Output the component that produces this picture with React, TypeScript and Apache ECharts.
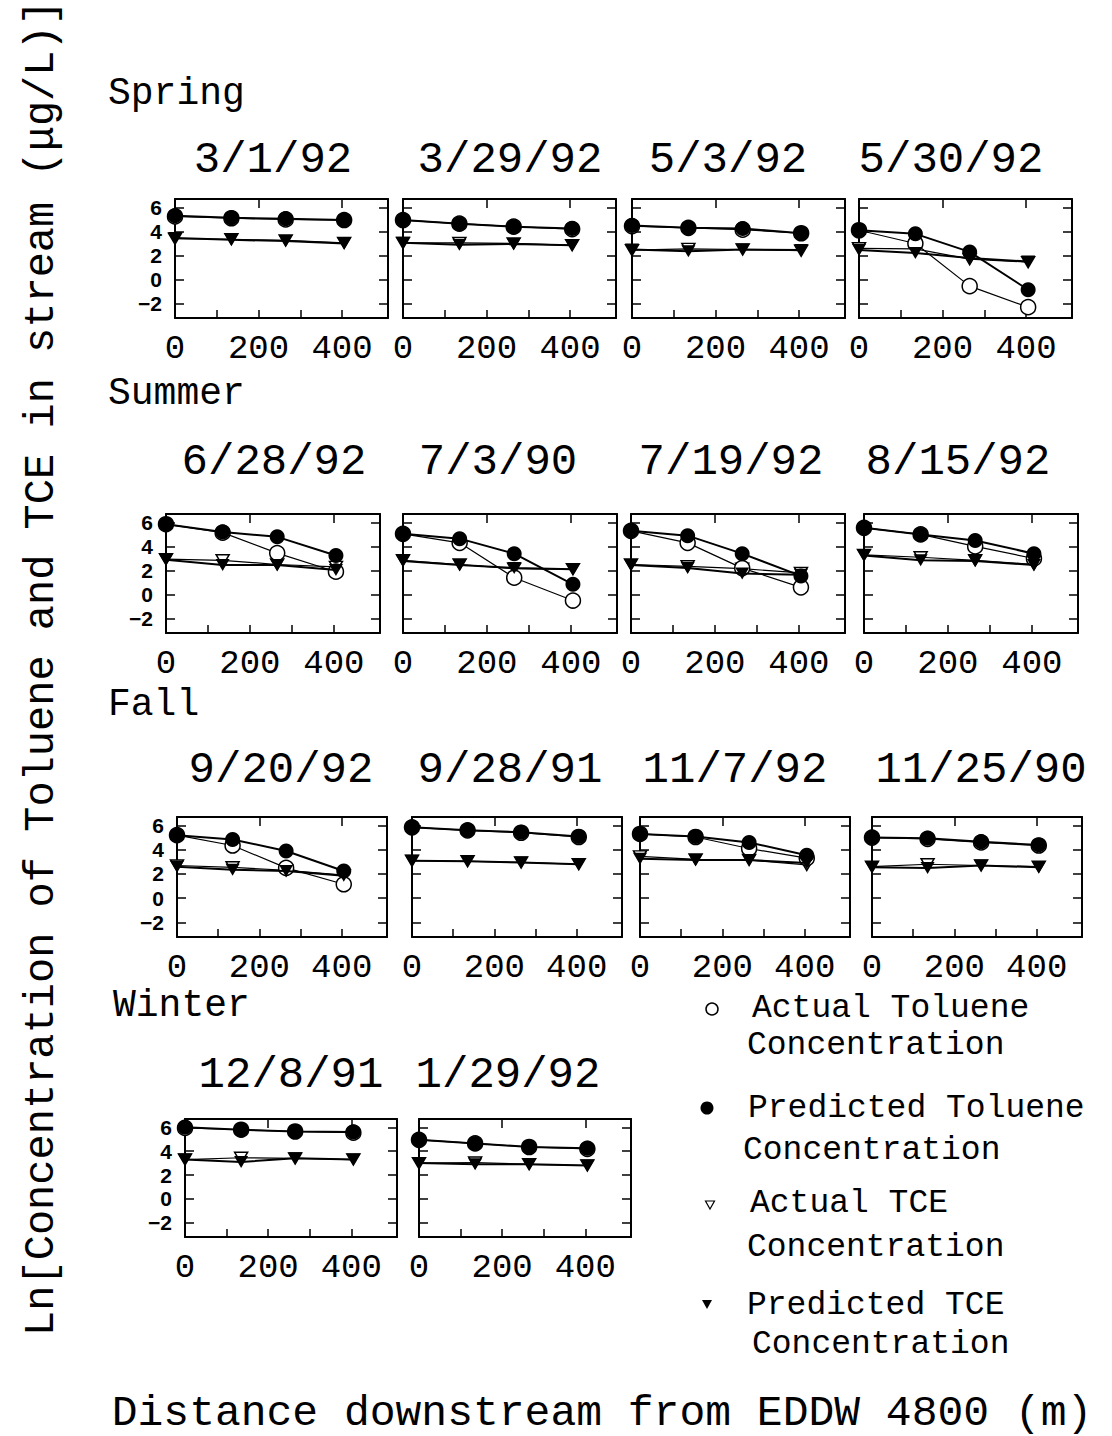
import React, { useEffect, useRef } from 'react';
import * as echarts from 'echarts';

// Sampling dates, one small panel each (read row by row)
const sampleDates = [
  '3/1/92', '3/29/92', '5/3/92', '5/30/92',
  '6/28/92', '7/3/90', '7/19/92', '8/15/92',
  '9/20/92', '9/28/91', '11/7/92', '11/25/90',
  '12/8/91', '1/29/92',
];
const seasonNames = ['Spring', 'Summer', 'Fall', 'Winter'];

// Distance downstream of EDDW 4800 (m) of the four sampling stations
const distanceM = [0, 135, 265, 405];

// Ln concentration (µg/L), one row per sampling date
const actualToluene = [
  [5.25, 5.1, 5.0, 4.95],
  [4.95, 4.65, 4.4, 4.2],
  [4.45, 4.3, 4.15, 3.85],
  [4.1, 3.0, -0.55, -2.3],
  [5.85, 5.15, 3.45, 1.9],
  [5.05, 4.3, 1.4, -0.5],
  [5.3, 4.3, 2.2, 0.6],
  [5.55, 5.0, 4.0, 3.0],
  [5.2, 4.35, 2.5, 1.15],
  [5.85, 5.6, 5.4, 5.05],
  [5.3, 5.05, 4.1, 3.3],
  [5.0, 4.9, 4.6, 4.35],
  [5.95, 5.8, 5.65, 5.55],
  [4.95, 4.65, 4.35, 4.2],
];
const predictedToluene = [
  [5.3, 5.15, 5.05, 4.95],
  [4.95, 4.65, 4.4, 4.25],
  [4.5, 4.3, 4.25, 3.85],
  [4.1, 3.8, 2.3, -0.85],
  [5.85, 5.2, 4.8, 3.25],
  [5.05, 4.65, 3.4, 0.85],
  [5.3, 4.9, 3.4, 1.55],
  [5.55, 5.0, 4.5, 3.4],
  [5.2, 4.85, 3.9, 2.25],
  [5.85, 5.6, 5.45, 5.1],
  [5.3, 5.1, 4.6, 3.55],
  [5.0, 4.95, 4.65, 4.4],
  [6.0, 5.8, 5.65, 5.6],
  [4.95, 4.65, 4.35, 4.25],
];
const actualTCE = [
  [3.4, 3.35, 3.25, 3.05],
  [3.05, 3.05, 3.0, 2.85],
  [2.45, 2.55, 2.5, 2.4],
  [2.6, 2.55, 1.7, 1.45],
  [2.95, 2.85, 2.5, 2.3],
  [2.85, 2.5, 2.15, 2.1],
  [2.5, 2.35, 2.15, 1.8],
  [3.3, 3.1, 2.85, 2.5],
  [2.7, 2.55, 2.3, 1.9],
  [3.1, 3.05, 2.95, 2.8],
  [3.45, 3.2, 3.15, 2.75],
  [2.6, 2.8, 2.7, 2.6],
  [3.3, 3.45, 3.4, 3.3],
  [3.0, 3.05, 2.9, 2.8],
];
const predictedTCE = [
  [3.45, 3.3, 3.2, 3.0],
  [3.05, 2.9, 2.95, 2.85],
  [2.5, 2.35, 2.5, 2.45],
  [2.45, 2.2, 1.8, 1.5],
  [2.9, 2.45, 2.45, 2.05],
  [2.8, 2.45, 2.2, 2.1],
  [2.45, 2.2, 1.75, 1.65],
  [3.25, 2.85, 2.8, 2.45],
  [2.6, 2.35, 2.25, 1.85],
  [3.1, 3.05, 2.95, 2.8],
  [3.25, 3.15, 3.15, 2.9],
  [2.55, 2.5, 2.7, 2.55],
  [3.3, 3.1, 3.4, 3.3],
  [3.0, 2.9, 2.9, 2.8],
];

// Tick values
const yTickValues = [-2, 0, 2, 4, 6];
const xLabelValues = [0, 200, 400];
const xTickValues = [100, 200, 300, 400];
const xTopTickValues = [200, 400];

const Y_MIN = -3.2;
const Y_MAX = 6.7;
const X_MIN = 0;
const X_MAX = 510;

// Page layout of the four rows of panels
const ROWS = [
  { top: 199, height: 119, width: 213, lefts: [175, 403, 632, 859], titleY: 160, titleX: [273, 510, 728, 951], seasonX: 108, seasonY: 93 },
  { top: 514, height: 119, width: 214, lefts: [166, 403, 631, 864], titleY: 462, titleX: [274, 498, 731, 958], seasonX: 108, seasonY: 393 },
  { top: 817, height: 120, width: 210, lefts: [177, 412, 640, 872], titleY: 770, titleX: [281, 510, 735, 981], seasonX: 108, seasonY: 704 },
  { top: 1119, height: 118, width: 212, lefts: [185, 419], titleY: 1075, titleX: [291, 508], seasonX: 113, seasonY: 1005 },
];

const MONO = '"Liberation Mono", "DejaVu Sans Mono", monospace';
const SANS = '"Liberation Sans", "DejaVu Sans", sans-serif';
const INK = '#000';

function textEl(text: string, x: number, y: number, size: number, align = 'left', extra: any = {}) {
  return {
    type: 'text',
    x,
    y,
    silent: true,
    ...extra,
    style: {
      text,
      x: 0,
      y: 0,
      fill: INK,
      font: `${size}px ${MONO}`,
      textAlign: align,
      align,
      textVerticalAlign: 'middle',
      verticalAlign: 'middle',
    },
  };
}

function buildOption() {
  const grids: any[] = [];
  const xAxes: any[] = [];
  const yAxes: any[] = [];
  const series: any[] = [];
  const graphics: any[] = [];

  const axisLine = { show: true, onZero: false, lineStyle: { color: INK, width: 2 } };

  let p = 0;
  ROWS.forEach((row, r) => {
    graphics.push(textEl(seasonNames[r], row.seasonX, row.seasonY, 38, 'left'));
    row.lefts.forEach((left, c) => {
      const g = p;
      grids.push({
        left,
        top: row.top,
        width: row.width,
        height: row.height,
        containLabel: false,
        outerBoundsMode: 'none',
      });
      graphics.push(textEl(sampleDates[p], row.titleX[c], row.titleY, 44, 'center'));

      // bottom axis with labels
      xAxes.push({
        type: 'value', gridIndex: g, position: 'bottom', min: X_MIN, max: X_MAX,
        axisLine,
        axisTick: { show: true, inside: true, length: 8, customValues: xTickValues, lineStyle: { color: INK, width: 1.5 } },
        axisLabel: {
          show: true, customValues: xLabelValues, margin: 14,
          color: INK, fontFamily: MONO, fontSize: 34,
        },
        splitLine: { show: false },
      });
      // top frame
      xAxes.push({
        type: 'value', gridIndex: g, position: 'top', min: X_MIN, max: X_MAX,
        axisLine,
        axisTick: { show: true, inside: true, length: 9, customValues: xTopTickValues, lineStyle: { color: INK, width: 1.5 } },
        axisLabel: { show: false },
        splitLine: { show: false },
      });
      // left axis, labelled on the first panel of each row
      yAxes.push({
        type: 'value', gridIndex: g, position: 'left', min: Y_MIN, max: Y_MAX,
        axisLine,
        axisTick: { show: true, inside: true, length: 9, customValues: yTickValues, lineStyle: { color: INK, width: 1.5 } },
        axisLabel: {
          show: c === 0, customValues: yTickValues, margin: 13,
          color: INK, fontFamily: SANS, fontWeight: 'bold', fontSize: 21,
          formatter: (v: number) => (v < 0 ? '\u2212' + Math.abs(v) : String(v)),
        },
        splitLine: { show: false },
      });
      // right frame
      yAxes.push({
        type: 'value', gridIndex: g, position: 'right', min: Y_MIN, max: Y_MAX,
        axisLine,
        axisTick: { show: true, inside: true, length: 9, customValues: yTickValues, lineStyle: { color: INK, width: 1.5 } },
        axisLabel: { show: false },
        splitLine: { show: false },
      });

      const pts = (vals: number[]) => distanceM.map((d, k) => [d, vals[k]]);
      const common = { type: 'line', xAxisIndex: g * 2, yAxisIndex: g * 2, showSymbol: true, silent: true };

      series.push({
        ...common, name: 'Actual TCE Concentration', data: pts(actualTCE[p]), z: 2,
        symbol: 'triangle', symbolRotate: 180, symbolSize: [13, 11],
        lineStyle: { color: INK, width: 1.2 },
        itemStyle: { color: '#fff', borderColor: INK, borderWidth: 1.5 },
      });
      series.push({
        ...common, name: 'Actual Toluene Concentration', data: pts(actualToluene[p]), z: 3,
        symbol: 'circle', symbolSize: 15,
        lineStyle: { color: INK, width: 1.2 },
        itemStyle: { color: '#fff', borderColor: INK, borderWidth: 1.5 },
      });
      series.push({
        ...common, name: 'Predicted TCE Concentration', data: pts(predictedTCE[p]), z: 4,
        symbol: 'triangle', symbolRotate: 180, symbolSize: [14, 12],
        lineStyle: { color: INK, width: 2 },
        itemStyle: { color: INK },
      });
      series.push({
        ...common, name: 'Predicted Toluene Concentration', data: pts(predictedToluene[p]), z: 5,
        symbol: 'circle', symbolSize: 15,
        lineStyle: { color: INK, width: 2 },
        itemStyle: { color: INK },
      });
      p += 1;
    });
  });

  // Axis titles
  graphics.push(textEl('Ln[Concentration of Toluene and TCE in stream (\u03bcg/L)]', 42, 668, 42, 'center', { rotation: Math.PI / 2 }));
  graphics.push(textEl('Distance downstream from EDDW 4800 (m)', 602, 1413, 43, 'center'));

  // Legend
  graphics.push({ type: 'circle', silent: true, shape: { cx: 712, cy: 1009, r: 6 }, style: { fill: '#fff', stroke: INK, lineWidth: 1.5 } });
  graphics.push(textEl('Actual Toluene', 752, 1008, 33));
  graphics.push(textEl('Concentration', 747, 1045, 33));

  graphics.push({ type: 'circle', silent: true, shape: { cx: 707, cy: 1108, r: 6.5 }, style: { fill: INK } });
  graphics.push(textEl('Predicted Toluene', 748, 1108, 33));
  graphics.push(textEl('Concentration', 743, 1150, 33));

  graphics.push({ type: 'polygon', silent: true, shape: { points: [[705.5, 1201], [714.5, 1201], [710, 1209]] }, style: { fill: '#fff', stroke: INK, lineWidth: 1.2 } });
  graphics.push(textEl('Actual TCE', 750, 1203, 33));
  graphics.push(textEl('Concentration', 747, 1247, 33));

  graphics.push({ type: 'polygon', silent: true, shape: { points: [[702, 1300], [712, 1300], [707, 1309]] }, style: { fill: INK } });
  graphics.push(textEl('Predicted TCE', 747, 1305, 33));
  graphics.push(textEl('Concentration', 752, 1344, 33));

  return {
    animation: false,
    backgroundColor: '#fff',
    grid: grids,
    xAxis: xAxes,
    yAxis: yAxes,
    series,
    graphic: graphics,
  };
}

export default function App() {
  const ref = useRef<HTMLDivElement>(null);
  useEffect(() => {
    if (!ref.current) return;
    const chart = echarts.init(ref.current, undefined, { renderer: 'svg' });
    chart.setOption(buildOption() as any);
    return () => chart.dispose();
  }, []);
  return (
    <div
      ref={ref}
      style={{ position: 'absolute', left: 0, top: 0, width: 1112, height: 1436, background: '#fff' }}
    />
  );
}
